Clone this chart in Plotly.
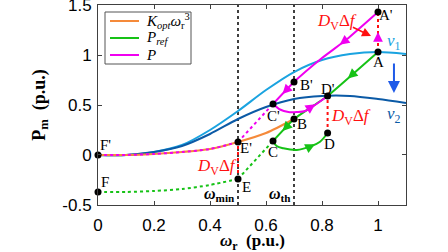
import plotly.graph_objects as go

# ---------------- data ----------------
omega_min = 0.5
omega_th = 0.7

# wind power curves at two wind speeds
w_v = [0, 0.1, 0.2, 0.3, 0.4, 0.5, 0.6, 0.7, 0.8, 0.9, 1.0, 1.1]
p_v1 = [0.0, 0.0, 0.03, 0.10, 0.25, 0.44, 0.65, 0.83, 0.95, 1.01, 1.03, 1.01]
p_v2 = [0.0, 0.0, 0.03, 0.09, 0.21, 0.36, 0.48, 0.56, 0.59, 0.59, 0.56, 0.52]

# K_opt * w^3 curve
w_cube = [0, 0.1, 0.2, 0.3, 0.4, 0.5, 0.6, 0.7]
p_cube = [0.0, 0.0, 0.01, 0.03, 0.06, 0.13, 0.22, 0.36]

# P_ref solid  A -> D' -> B -> C
w_ref1 = [1.0, 0.82, 0.70, 0.625]
p_ref1 = [1.03, 0.59, 0.36, 0.14]
# P_ref solid  C -> D
w_ref2 = [0.625, 0.638, 0.662, 0.71, 0.757, 0.793, 0.82]
p_ref2 = [0.14, 0.09, 0.067, 0.05, 0.083, 0.133, 0.22]
# P_ref dotted  F -> E -> C
w_ref3 = [0, 0.1, 0.2, 0.3, 0.4, 0.5]
p_ref3 = [-0.37, -0.37, -0.36, -0.34, -0.30, -0.24]
w_ref4 = [0.5, 0.625]
p_ref4 = [-0.24, 0.14]

# P solid  A' -> B' -> C'
w_p1 = [1.0, 0.89, 0.80, 0.70, 0.625]
p_p1 = [1.43, 1.16, 0.97, 0.73, 0.51]
# P solid  C' dip -> D'
w_p2 = [0.625, 0.65, 0.68, 0.71, 0.74, 0.82]
p_p2 = [0.51, 0.455, 0.43, 0.43, 0.44, 0.59]
# P dotted  F' -> E' -> C'
w_p3 = [0, 0.1, 0.2, 0.3, 0.4, 0.5]
p_p3 = [0.0, 0.0, 0.01, 0.03, 0.06, 0.13]
w_p4 = [0.5, 0.625]
p_p4 = [0.13, 0.51]

# DvΔf jumps (red dotted)
jump_w = [1.0, 0.82, 0.5]
jump_lo = [1.03, 0.22, -0.24]
jump_hi = [1.43, 0.59, 0.13]

# labelled points
pt_names = ["A'", "A", "B'", "B", "C'", "C", "D'", "D", "E'", "E", "F'", "F"]
pt_w = [1.0, 1.0, 0.70, 0.70, 0.625, 0.625, 0.82, 0.82, 0.5, 0.5, 0.0, 0.0]
pt_p = [1.43, 1.03, 0.73, 0.36, 0.51, 0.14, 0.59, 0.22, 0.13, -0.24, 0.0, -0.37]

legend_names = ["<i>K</i><sub><i>opt</i></sub><i>ω</i><sub>r</sub><sup>3</sup>",
                "<i>P</i><sub><i>ref</i></sub>", "<i>P</i>"]

x_ticks = [0, 0.2, 0.4, 0.6, 0.8, 1.0]
x_ticktext = ["0", "0.2", "0.4", "0.6", "0.8", "1"]
y_ticks = [-0.5, 0, 0.5, 1.0, 1.5]
y_ticktext = ["-0.5", "0", "0.5", "1", "1.5"]

# ---------------- style ----------------
C_V1 = "#1aa3e0"
C_V2 = "#0b5aa6"
C_OR = "#f58a3a"
C_GR = "#16c216"
C_MG = "#f000f0"
C_RD = "#ff1010"
SERIF = "Liberation Serif, Times New Roman, serif"
SANS = "Liberation Sans, Arial, sans-serif"

W, H = 448, 252
ML, MR, MT, MB = 98, 42, 5, 47
XR = [0, 1.1]
YR = [-0.5005, 1.5005]
PW, PH = W - ML - MR, H - MT - MB
px_x = PW / (XR[1] - XR[0])
px_y = PH / (YR[1] - YR[0])

fig = go.Figure()

def line(xs, ys, color, dash="solid", width=2, shape="spline", smooth=0.8):
    fig.add_trace(go.Scatter(x=xs, y=ys, mode="lines", showlegend=False,
                             line=dict(color=color, width=width, dash=dash, shape=shape,
                                       smoothing=smooth if shape == "spline" else None),
                             hoverinfo="skip"))

# vertical reference lines
for wv in (omega_min, omega_th):
    line([wv, wv], [-0.5, 1.5], "black", dash="dot", width=1.5, shape="linear")

# wind curves
line(w_v, p_v1, C_V1, width=2)
line(w_v, p_v2, C_V2, width=2)

# red DvΔf jumps
for i in range(len(jump_w)):
    line([jump_w[i], jump_w[i]], [jump_lo[i], jump_hi[i]], C_RD, dash="dot", width=2, shape="linear")

# K_opt w^3
line(w_cube, p_cube, C_OR, width=2.2)

# P_ref
line(w_ref3, p_ref3, C_GR, dash="dot", width=2)
line(w_ref4, p_ref4, C_GR, dash="dot", width=2, shape="linear")
line(w_ref1, p_ref1, C_GR, width=2, smooth=0.3)
line(w_ref2, p_ref2, C_GR, width=2, smooth=0.9)

# P
line(w_p3, p_p3, C_MG, dash="dot", width=2)
line(w_p4, p_p4, C_MG, dash="dot", width=2, shape="linear")
line(w_p1, p_p1, C_MG, width=2, smooth=0.5)
line(w_p2, p_p2, C_MG, width=2, smooth=0.7)

# points
fig.add_trace(go.Scatter(x=pt_w, y=pt_p, mode="markers", showlegend=False, hoverinfo="skip",
                         marker=dict(color="black", size=7), cliponaxis=False))

# point labels (offsets in data units)
lab_off = {"A'": (0.03, -0.03), "A": (0.0, -0.10), "B'": (0.045, -0.03), "B": (0.03, -0.05),
           "C'": (0.0, -0.12), "C": (0.0, -0.11), "D'": (0.0, 0.075), "D": (0.005, -0.11),
           "E'": (0.03, -0.06), "E": (0.03, -0.08), "F'": (0.025, 0.10), "F": (0.025, 0.10)}
for n, xw, yp in zip(pt_names, pt_w, pt_p):
    dx, dy = lab_off[n]
    fig.add_annotation(x=xw + dx, y=yp + dy, text=n, showarrow=False,
                       font=dict(family=SERIF, size=15, color="black"))

# arrowheads along paths
def arrow_on(xs, ys, i, t, color, back_px=7):
    x0, y0, x1, y1 = xs[i], ys[i], xs[i + 1], ys[i + 1]
    tx = x0 + (x1 - x0) * t
    ty = y0 + (y1 - y0) * t
    dxp = (x1 - x0) * px_x
    dyp = (y1 - y0) * px_y
    L = (dxp ** 2 + dyp ** 2) ** 0.5
    bx = tx - dxp / L * back_px / px_x
    by = ty - dyp / L * back_px / px_y
    fig.add_annotation(x=tx, y=ty, ax=bx, ay=by, xref="x", yref="y", axref="x", ayref="y",
                       text="", showarrow=True, arrowhead=2, arrowsize=1.3, arrowwidth=1.5,
                       arrowcolor=color, standoff=0)

arrow_on(w_p1, p_p1, 1, 0.3, C_MG)
arrow_on(w_p1, p_p1, 3, 0.55, C_MG)
arrow_on(w_p2, p_p2, 4, 0.45, C_MG)
arrow_on([jump_w[0], jump_w[0]], [jump_lo[0], jump_hi[0]], 0, 0.5, C_MG)
arrow_on(w_ref1, p_ref1, 0, 0.6, C_GR)
arrow_on(w_ref1, p_ref1, 2, 0.55, C_GR)
arrow_on(w_ref2, p_ref2, 4, 0.5, C_GR)

# DvΔf labels
dv = "<i>D</i><sub>V</sub>Δ<i>f</i>"
fig.add_annotation(x=0.853, y=1.33, text=dv, showarrow=False, font=dict(family=SERIF, size=17, color=C_RD))
fig.add_annotation(x=0.975, y=1.19, ax=0.905, ay=1.285, xref="x", yref="y", axref="x", ayref="y",
                   text="", showarrow=True, arrowhead=2, arrowsize=1.2, arrowwidth=1.5, arrowcolor=C_RD, standoff=0)
fig.add_annotation(x=0.905, y=0.38, text=dv, showarrow=False, font=dict(family=SERIF, size=17, color=C_RD))
fig.add_annotation(x=0.425, y=-0.12, text=dv, showarrow=False, font=dict(family=SERIF, size=17, color=C_RD))

# v1 / v2
fig.add_annotation(x=1.058, y=1.13, text="<i>v</i><sub>1</sub>", showarrow=False, font=dict(family=SERIF, size=17, color=C_V1))
fig.add_annotation(x=1.058, y=0.40, text="<i>v</i><sub>2</sub>", showarrow=False, font=dict(family=SERIF, size=17, color=C_V2))
fig.add_annotation(x=1.057, y=0.62, ax=1.057, ay=0.93, xref="x", yref="y", axref="x", ayref="y",
                   text="", showarrow=True, arrowhead=2, arrowsize=1.2, arrowwidth=2, arrowcolor="#1f5ae8", standoff=0)

# omega labels
fig.add_annotation(x=omega_min, y=-0.5, xanchor="right", yanchor="bottom", text="<b><i>ω</i></b><sub><b>min</b></sub>",
                   showarrow=False, font=dict(family=SERIF, size=16, color="black"), xshift=-1, yshift=-1)
fig.add_annotation(x=omega_th, y=-0.5, xanchor="right", yanchor="bottom", text="<b><i>ω</i></b><sub><b>th</b></sub>",
                   showarrow=False, font=dict(family=SERIF, size=16, color="black"), xshift=-1, yshift=-1)

# x axis title (placed as paper annotation below the tick labels)
fig.add_annotation(x=0.5, y=0, xref="paper", yref="paper", yanchor="middle", yshift=-37,
                   text="<b><i>ω</i></b><sub><b>r</b></sub><b>  (p.u.)</b>", showarrow=False,
                   font=dict(family=SERIF, size=17, color="black"))

# ---- boxed legend drawn in paper coordinates ----
def pxx(px):
    return (px - ML) / PW

def pxy(py):
    return (H - MB - py) / PH

fig.add_shape(type="rect", xref="paper", yref="paper", x0=pxx(105), x1=pxx(191), y0=pxy(64), y1=pxy(12),
              line=dict(color="#555", width=1), fillcolor="white", layer="above")
leg_colors = [C_OR, C_GR, C_MG]
leg_rows = [21, 38, 55]
for name, col, row in zip(legend_names, leg_colors, leg_rows):
    fig.add_shape(type="line", xref="paper", yref="paper", x0=pxx(110), x1=pxx(139), y0=pxy(row), y1=pxy(row),
                  line=dict(color=col, width=2), layer="above")
    fig.add_annotation(x=pxx(144), y=pxy(row), xref="paper", yref="paper", xanchor="left", yanchor="middle",
                       text=name, showarrow=False, font=dict(family=SERIF, size=15, color="black"))

axis_common = dict(showline=True, linecolor="#404040", linewidth=1, mirror="ticks", ticks="inside",
                   ticklen=4, tickcolor="#404040", showgrid=False, zeroline=False,
                   ticklabeloverflow="allow", automargin=False,
                   tickfont=dict(family=SANS, size=17, color="black"))
fig.update_xaxes(range=XR, tickvals=x_ticks, ticktext=x_ticktext, ticklabelstandoff=5, **axis_common)
fig.update_yaxes(range=YR, tickvals=y_ticks, ticktext=y_ticktext, ticklabelstandoff=2,
                 title=dict(text="<b>P</b><sub><b>m</b></sub><b>  (p.u.)</b>",
                            font=dict(family=SERIF, size=18, color="black"), standoff=12), **axis_common)

fig.update_layout(width=W, height=H, margin=dict(l=ML, r=MR, t=MT, b=MB, autoexpand=False),
                  plot_bgcolor="white", paper_bgcolor="white", showlegend=False)

fig.write_html("out.html", config={"displayModeBar": False},
               post_script="document.body.style.margin='0';document.body.style.overflow='hidden';")
